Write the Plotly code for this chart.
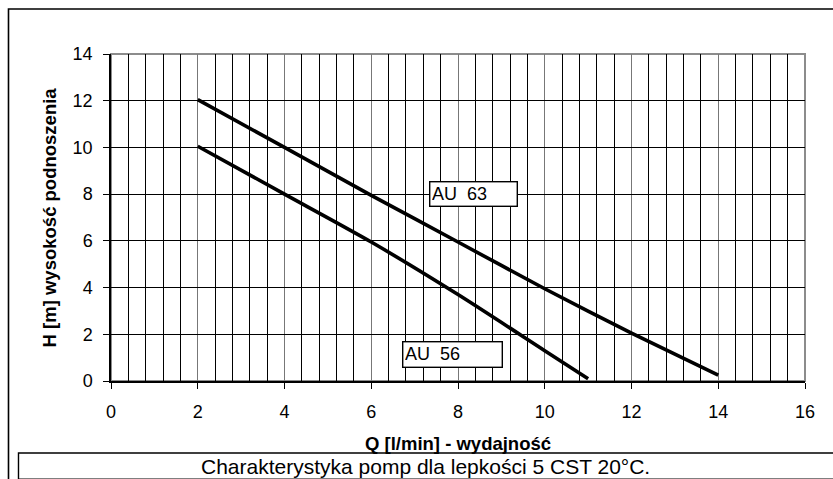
import plotly.graph_objects as go

# Data
q_au63 = [2, 4, 6, 8, 10, 12, 14]
h_au63 = [12.05, 10.0, 7.95, 5.95, 3.95, 2.05, 0.25]
q_au56 = [2, 4, 6, 8, 10, 11]
h_au56 = [10.05, 8.0, 5.95, 3.7, 1.3, 0.1]

series_labels = ["AU  63", "AU  56"]
x_title = "Q [l/min] - wydajność"
y_title = "H [m] wysokość podnoszenia"
caption = "Charakterystyka pomp dla lepkości 5 CST 20°C."

FONT = "Liberation Sans, Arial, sans-serif"

fig = go.Figure()
fig.add_trace(go.Scatter(x=q_au63, y=h_au63, mode="lines",
                         line=dict(color="black", width=3.6, shape="spline", smoothing=0.5),
                         name="AU 63", showlegend=False))
fig.add_trace(go.Scatter(x=q_au56, y=h_au56, mode="lines",
                         line=dict(color="black", width=3.6, shape="spline", smoothing=0.7),
                         name="AU 56", showlegend=False))

# label boxes
fig.add_annotation(x=7.33, y=8.56, xref="x", yref="y", xanchor="left", yanchor="top",
                   text=series_labels[0], showarrow=False, align="left",
                   font=dict(family=FONT, size=18, color="black"),
                   bordercolor="black", borderwidth=1.4, bgcolor="white",
                   width=83, height=20, borderpad=1.5)
fig.add_annotation(x=6.71, y=1.71, xref="x", yref="y", xanchor="left", yanchor="top",
                   text=series_labels[1], showarrow=False, align="left",
                   font=dict(family=FONT, size=18, color="black"),
                   bordercolor="black", borderwidth=1.4, bgcolor="white",
                   width=95, height=21, borderpad=1.5)

# axis titles
fig.add_annotation(x=-0.088, y=0.5, xref="paper", yref="paper", xanchor="center", yanchor="middle",
                   text="<b>" + y_title + "</b>",
                   textangle=-90, showarrow=False, font=dict(family=FONT, size=18.5, color="black"))
fig.add_annotation(x=0.5, y=-0.19, xref="paper", yref="paper", xanchor="center", yanchor="middle",
                   text="<b>" + x_title + "</b>",
                   showarrow=False, font=dict(family=FONT, size=18.5, color="black"))

# caption box and text
fig.add_shape(type="rect", xref="paper", yref="paper", x0=-0.1333, x1=1.05, y0=-0.2202, y1=-0.30,
              line=dict(color="black", width=1.4), fillcolor="rgba(0,0,0,0)", layer="above")
fig.add_annotation(x=0.4525, y=-0.261, xref="paper", yref="paper", xanchor="center", yanchor="middle",
                   text=caption,
                   showarrow=False, font=dict(family=FONT, size=21, color="black"))

# outer border
fig.add_shape(type="rect", xref="paper", yref="paper", x0=-0.1477, x1=1.1, y0=-0.4, y1=1.1376,
              line=dict(color="black", width=1.6), fillcolor="rgba(0,0,0,0)", layer="above")
# plot area border (top/right gray)
fig.add_shape(type="rect", xref="paper", yref="paper", x0=0, x1=1, y0=0, y1=1,
              line=dict(color="#8c8c8c", width=2), fillcolor="rgba(0,0,0,0)", layer="below")

fig.update_xaxes(range=[0, 16], dtick=2, tick0=0, showgrid=True, gridcolor="#777777", gridwidth=1,
                 minor=dict(dtick=0.4, tick0=0, showgrid=True, gridcolor="black", gridwidth=1),
                 showline=True, linecolor="black", linewidth=1.5,
                 ticks="outside", ticklen=6, tickcolor="black", tickwidth=1,
                 ticklabelstandoff=8,
                 zeroline=False, tickfont=dict(family=FONT, size=18, color="black"))
fig.update_yaxes(range=[0, 14], dtick=2, tick0=0, showgrid=True, gridcolor="black", gridwidth=1,
                 showline=True, linecolor="black", linewidth=1.5,
                 ticks="outside", ticklen=6, tickcolor="black", tickwidth=1,
                 ticklabelstandoff=7,
                 zeroline=False, tickfont=dict(family=FONT, size=18, color="black"))

fig.update_layout(width=833, height=479, margin=dict(l=111, r=28, t=54, b=98),
                  paper_bgcolor="white", plot_bgcolor="white",
                  font=dict(family=FONT, color="black"))

fig.write_html("out.html", config={"displayModeBar": False},
               post_script="document.body.style.margin='0';document.body.style.overflow='hidden';")
